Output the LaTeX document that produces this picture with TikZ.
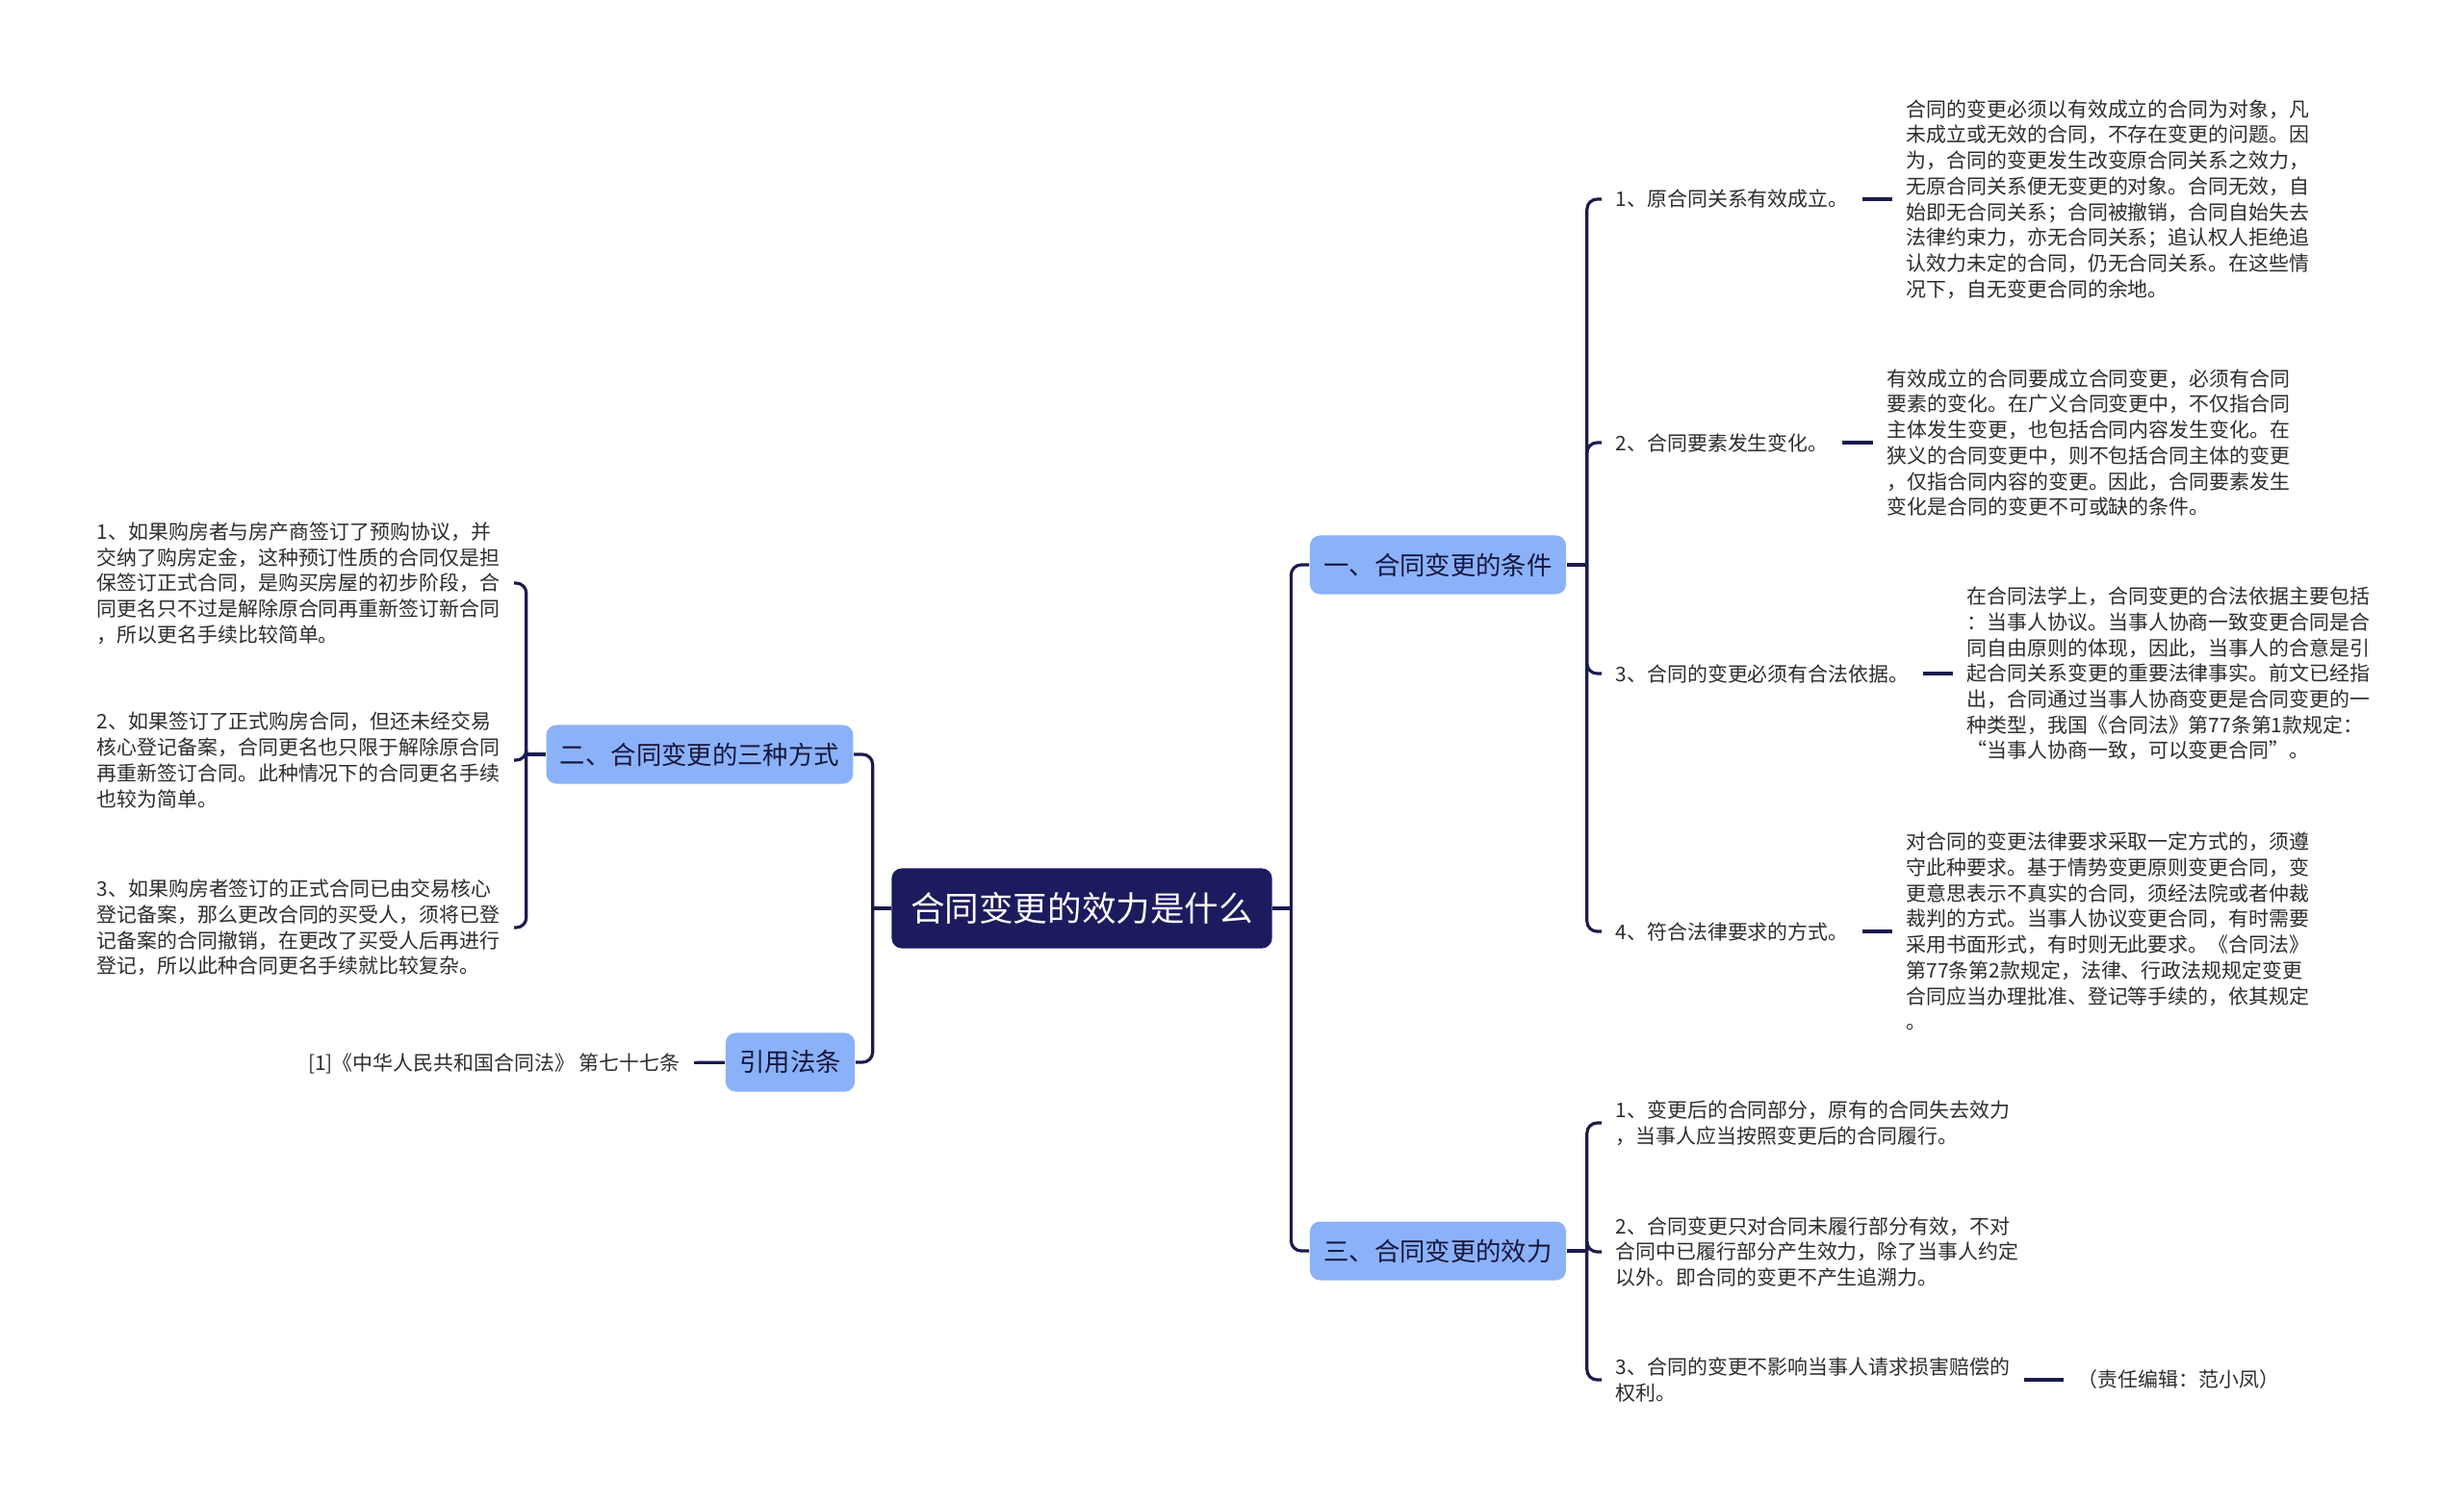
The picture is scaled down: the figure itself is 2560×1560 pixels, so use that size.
\documentclass[tikz,border=0pt]{standalone}
\usepackage{fontspec}
\setmainfont{Noto Sans CJK SC}
\usepackage{tikz}
\usetikzlibrary{positioning}
\definecolor{navy}{RGB}{27, 27, 78}
\definecolor{topic}{RGB}{139, 178, 248}
\definecolor{rootbg}{RGB}{28, 27, 94}
\definecolor{ink}{RGB}{45, 45, 45}

\begin{document}
\begin{tikzpicture}[x=0.01cm, y=-0.01cm,
    rootbox/.style={fill=rootbg, text=white, rounded corners=3pt, inner xsep=5.7pt, minimum height=0.83cm, font=\fontsize{10.1}{12}\selectfont},
    topicbox/.style={fill=topic, text=navy!80!black, rounded corners=3pt, inner xsep=4.1pt, minimum height=0.61cm, font=\fontsize{7.5}{9}\selectfont},
    leaf/.style={align=left, text=ink, inner xsep=4pt, inner ysep=1pt, font=\fontsize{5.95}{7.6}\selectfont},
    link/.style={draw=navy, line width=0.9pt, rounded corners=3pt}]
    \useasboundingbox (0,0) rectangle (2560,1560);

    % Topics
    \node[rootbox] (root) at (1124,944) {合同变更的效力是什么};
    \node[topicbox] (cond) at (1494,587) {一、合同变更的条件};
    \node[topicbox] (ways) at (727,784) {二、合同变更的三种方式};
    \node[topicbox] (effect) at (1494,1300) {三、合同变更的效力};
    \node[topicbox] (law) at (821,1104) {引用法条};

    % Conditions
    \node[leaf, anchor=west] (cond1) at (1664,207) {1、原合同关系有效成立。};
    \node[leaf, anchor=west] (cond2) at (1664,460) {2、合同要素发生变化。};
    \node[leaf, anchor=west] (cond3) at (1664,700) {3、合同的变更必须有合法依据。};
    \node[leaf, anchor=west] (cond4) at (1664,968) {4、符合法律要求的方式。};
    \node[leaf, anchor=west] (note1) at (1966,207) {合同的变更必须以有效成立的合同为对象，凡\\未成立或无效的合同，不存在变更的问题。因\\为，合同的变更发生改变原合同关系之效力，\\无原合同关系便无变更的对象。合同无效，自\\始即无合同关系；合同被撤销，合同自始失去\\法律约束力，亦无合同关系；追认权人拒绝追\\认效力未定的合同，仍无合同关系。在这些情\\况下，自无变更合同的余地。};
    \node[leaf, anchor=west] (note2) at (1946,460) {有效成立的合同要成立合同变更，必须有合同\\要素的变化。在广义合同变更中，不仅指合同\\主体发生变更，也包括合同内容发生变化。在\\狭义的合同变更中，则不包括合同主体的变更\\，仅指合同内容的变更。因此，合同要素发生\\变化是合同的变更不可或缺的条件。};
    \node[leaf, anchor=west] (note3) at (2029,700) {在合同法学上，合同变更的合法依据主要包括\\：当事人协议。当事人协商一致变更合同是合\\同自由原则的体现，因此，当事人的合意是引\\起合同关系变更的重要法律事实。前文已经指\\出，合同通过当事人协商变更是合同变更的一\\种类型，我国《合同法》第77条第1款规定：\\“当事人协商一致，可以变更合同”。};
    \node[leaf, anchor=west] (note4) at (1966,968) {对合同的变更法律要求采取一定方式的，须遵\\守此种要求。基于情势变更原则变更合同，变\\更意思表示不真实的合同，须经法院或者仲裁\\裁判的方式。当事人协议变更合同，有时需要\\采用书面形式，有时则无此要求。《合同法》\\第77条第2款规定，法律、行政法规规定变更\\合同应当办理批准、登记等手续的，依其规定\\。};

    % Ways
    \node[leaf, anchor=west] (way1) at (86,606) {1、如果购房者与房产商签订了预购协议，并\\交纳了购房定金，这种预订性质的合同仅是担\\保签订正式合同，是购买房屋的初步阶段，合\\同更名只不过是解除原合同再重新签订新合同\\，所以更名手续比较简单。};
    \node[leaf, anchor=west] (way2) at (86,790) {2、如果签订了正式购房合同，但还未经交易\\核心登记备案，合同更名也只限于解除原合同\\再重新签订合同。此种情况下的合同更名手续\\也较为简单。};
    \node[leaf, anchor=west] (way3) at (86,964) {3、如果购房者签订的正式合同已由交易核心\\登记备案，那么更改合同的买受人，须将已登\\记备案的合同撤销，在更改了买受人后再进行\\登记，所以此种合同更名手续就比较复杂。};

    % Effects
    \node[leaf, anchor=west] (eff1) at (1664,1167) {1、变更后的合同部分，原有的合同失去效力\\，当事人应当按照变更后的合同履行。};
    \node[leaf, anchor=west] (eff2) at (1664,1301) {2、合同变更只对合同未履行部分有效，不对\\合同中已履行部分产生效力，除了当事人约定\\以外。即合同的变更不产生追溯力。};
    \node[leaf, anchor=west] (eff3) at (1664,1434) {3、合同的变更不影响当事人请求损害赔偿的\\权利。};
    \node[leaf, anchor=west] (editor) at (2144,1434) {（责任编辑：范小凤）};

    % Law
    \node[leaf, anchor=east] (lawref) at (721,1105) {[1]《中华人民共和国合同法》 第七十七条};

    % Links
    \draw[link] (root.east) -- ++(19,0) coordinate (rt);
    \draw[link] (rt) |- (cond.west);
    \draw[link] (rt) |- (effect.west);
    \draw[link] (root.west) -- ++(-19,0) coordinate (lt);
    \draw[link] (lt) |- (ways.east);
    \draw[link] (lt) |- (law.east);

    \draw[link] (cond.east) -- ++(21,0) coordinate (ct);
    \foreach \n in {cond1, cond2, cond3, cond4}
        \draw[link] (ct) |- (\n.west);
    \draw[link] (cond1) -- (note1);
    \draw[link] (cond2) -- (note2);
    \draw[link] (cond3) -- (note3);
    \draw[link] (cond4) -- (note4);

    \draw[link] (ways.west) -- ++(-20,0) coordinate (wt);
    \foreach \n in {way1, way2, way3}
        \draw[link] (wt) |- (\n.east);

    \draw[link] (effect.east) -- ++(21,0) coordinate (et);
    \foreach \n in {eff1, eff2, eff3}
        \draw[link] (et) |- (\n.west);
    \draw[link] (eff3) -- (editor);

    \draw[link] (law) -- (lawref);
\end{tikzpicture}
\end{document}
